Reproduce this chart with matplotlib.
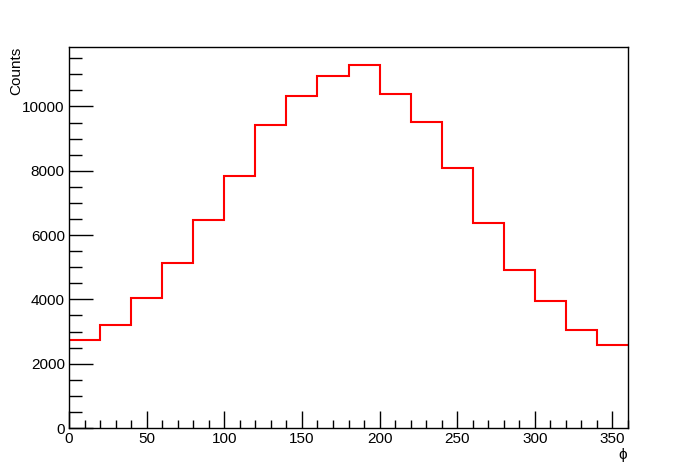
import matplotlib
matplotlib.use("Agg")
import matplotlib.pyplot as plt
import numpy as np
from matplotlib.ticker import MultipleLocator

bin_edges = list(range(0, 361, 20))
counts = [2733, 3199, 4047, 5135, 6460, 7826, 9410, 10321, 10942, 11284,
          10393, 9513, 8085, 6377, 4917, 3954, 3054, 2588]
x_label = "ϕ"
y_label = "Counts"

plt.rcParams['font.family'] = ['Liberation Sans', 'DejaVu Sans']

fig = plt.figure(figsize=(6.98, 4.76), dpi=100)
ax = fig.add_axes([69/698, 1-428/476, (628-69)/698, (428-47)/476])
ax.stairs(counts, bin_edges, color='#ff0000', linewidth=1.5, baseline=None)
ax.set_xlim(0, 360)
ax.set_ylim(0, max(counts)*1.05)

ax.xaxis.set_major_locator(MultipleLocator(50))
ax.xaxis.set_minor_locator(MultipleLocator(10))
ax.yaxis.set_major_locator(MultipleLocator(2000))
ax.yaxis.set_minor_locator(MultipleLocator(500))
ax.tick_params(which='both', direction='in', labelsize=11, width=1, color='black')
ax.tick_params(axis='x', which='major', length=12, pad=3)
ax.tick_params(axis='x', which='minor', length=6)
ax.tick_params(axis='y', which='major', length=17, pad=3)
ax.tick_params(axis='y', which='minor', length=9)
for s in ax.spines.values():
    s.set_linewidth(1)

fig.text(623/698, 1-455/476, x_label, ha='center', va='center', fontsize=11)
fig.text(16/698, 1-47/476, y_label, ha='center', va='top', rotation=90, fontsize=11)

fig.savefig("out.png", dpi=100)
